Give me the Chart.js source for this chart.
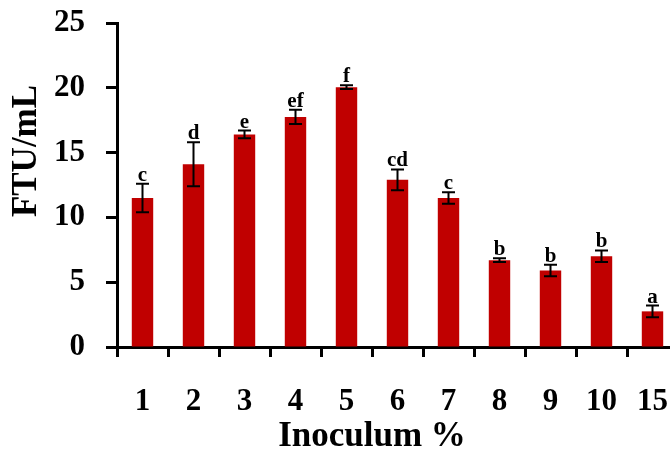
<!DOCTYPE html>
<html lang="en">
<head>
    <meta charset="UTF-8">
    <title>FTU/mL vs Inoculum %</title>
    <script src="https://cdn.jsdelivr.net/npm/chart.js"></script>
    <style>
        html, body {
            margin: 0;
            padding: 0;
            background: #fff;
            overflow: hidden;
        }
        /* chart is a bit wider than the window, the last category gets cut like in the figure */
        #wrap {
            width: 678px;
            height: 453px;
        }
    </style>
</head>
<body>
<div id="wrap">
    <canvas id="barChart" width="678" height="453"></canvas>
</div>

<script>
    // data
    const inoculum = ['1', '2', '3', '4', '5', '6', '7', '8', '9', '10', '15'];
    const ftu = [11.5, 14.1, 16.4, 17.75, 20.05, 12.9, 11.5, 6.7, 5.9, 7.0, 2.75];
    const ftuErr = [1.1, 1.7, 0.3, 0.55, 0.15, 0.8, 0.45, 0.15, 0.45, 0.45, 0.45];
    const groups = ['c', 'd', 'e', 'ef', 'f', 'cd', 'c', 'b', 'b', 'b', 'a'];
    const yTicks = [0, 5, 10, 15, 20, 25];

    const serif = '"Liberation Serif", "Times New Roman", serif';

    // error bars + significance letters on top of each bar
    const errorBars = {
        id: 'errorBars',
        afterDatasetsDraw(chart) {
            const ctx = chart.ctx;
            const x = chart.scales.x;
            const y = chart.scales.y;
            ctx.save();
            ctx.strokeStyle = '#000';
            ctx.lineWidth = 2;
            ctx.fillStyle = '#000';
            ctx.font = 'bold 21px ' + serif;
            ctx.textAlign = 'center';
            ctx.textBaseline = 'alphabetic';
            ftu.forEach((v, i) => {
                const px = x.getPixelForValue(i);
                const top = y.getPixelForValue(v + ftuErr[i]);
                const bot = y.getPixelForValue(v - ftuErr[i]);
                ctx.beginPath();
                ctx.moveTo(px, top);
                ctx.lineTo(px, bot);
                ctx.moveTo(px - 6.5, top);
                ctx.lineTo(px + 6.5, top);
                ctx.moveTo(px - 6.5, bot);
                ctx.lineTo(px + 6.5, bot);
                ctx.stroke();
                ctx.fillText(groups[i], px, top - 3);
            });
            ctx.restore();
        }
    };

    // axis titles are off-centre in the figure, so they are drawn by hand
    const axisTitles = {
        id: 'axisTitles',
        afterDraw(chart) {
            const ctx = chart.ctx;
            ctx.save();
            ctx.font = 'bold 35px ' + serif;
            ctx.fillStyle = '#000';
            ctx.textAlign = 'center';
            ctx.textBaseline = 'middle';
            ctx.fillText('Inoculum %', 372, 437);
            ctx.translate(27, 151);
            ctx.rotate(-Math.PI / 2);
            ctx.fillText('FTU/mL', 0, 0);
            ctx.restore();
        }
    };

    new Chart(document.getElementById('barChart'), {
        type: 'bar',
        data: {
            labels: inoculum,
            datasets: [{
                label: 'FTU/mL',
                data: ftu,
                backgroundColor: '#C00000',
                borderWidth: 0,
                barPercentage: 0.42,
                categoryPercentage: 1.0
            }]
        },
        options: {
            responsive: false,
            animation: false,
            devicePixelRatio: 1,
            layout: { padding: { top: 23, right: 0, left: 0, bottom: 0 } },
            plugins: {
                legend: { display: false },
                tooltip: { enabled: false }
            },
            scales: {
                x: {
                    afterFit(scale) {
                        scale.height = 106;
                        scale.paddingLeft = 0;
                        scale.paddingRight = 0;
                    },
                    border: { display: true, color: '#000', width: 3 },
                    grid: {
                        offset: true,
                        drawOnChartArea: false,
                        drawTicks: true,
                        tickLength: 10,
                        tickWidth: 3,
                        tickColor: '#000'
                    },
                    ticks: {
                        color: '#000',
                        padding: 26,
                        font: { family: serif, size: 31, weight: 'bold' }
                    }
                },
                y: {
                    min: 0,
                    max: 25,
                    afterFit(scale) {
                        scale.width = 117;
                        scale.paddingTop = 0;
                        scale.paddingBottom = 0;
                    },
                    afterBuildTicks(scale) {
                        scale.ticks = yTicks.map(v => ({ value: v }));
                    },
                    border: { display: true, color: '#000', width: 3 },
                    grid: {
                        drawOnChartArea: false,
                        drawTicks: true,
                        tickLength: 11,
                        tickWidth: 3,
                        tickColor: '#000'
                    },
                    ticks: {
                        color: '#000',
                        padding: 21,
                        font: { family: serif, size: 31, weight: 'bold' }
                    }
                }
            }
        },
        plugins: [errorBars, axisTitles]
    });
</script>
</body>
</html>
